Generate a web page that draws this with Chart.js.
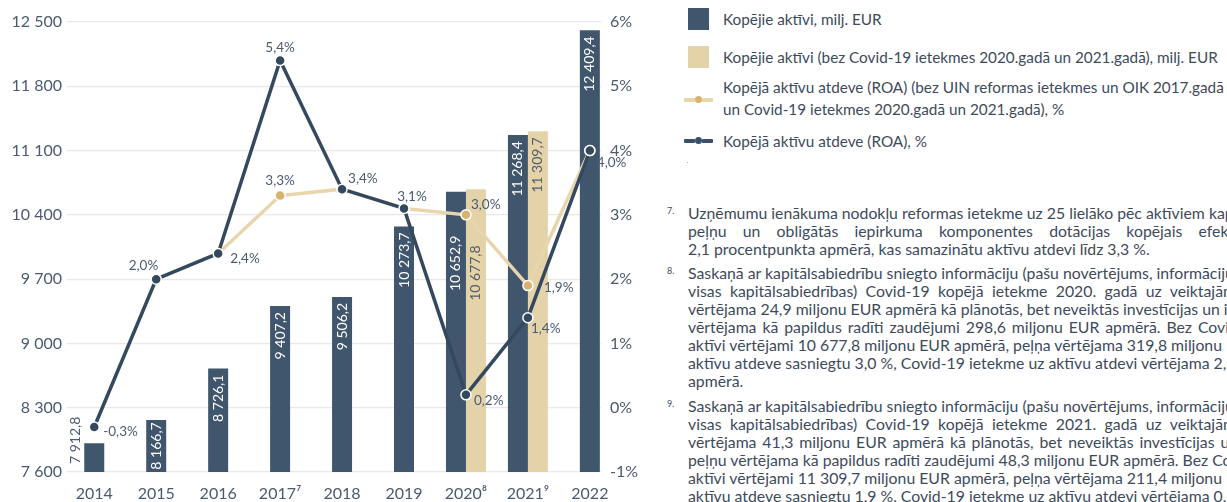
<!DOCTYPE html>
<html><head><meta charset="utf-8">
<script src="https://cdn.jsdelivr.net/npm/chart.js@4"></script>
<style>
body{margin:0;width:1227px;height:502px;overflow:hidden;background:#fff;position:relative;font-family:Lato,"Open Sans",sans-serif;color:#3d4a5c}
#cw{position:absolute;left:0;top:0;width:660px;height:502px}
.lg{position:absolute;left:723px;white-space:nowrap;font-size:15.3px;line-height:22px}
.sq{position:absolute;width:21px;height:22px}
.li{position:absolute;left:684px;width:29px;height:4px}
.li .a,.li .b{position:absolute;top:0;height:4px;width:11px;border-radius:1px}
.li .a{left:0}.li .b{right:0}
.li .d{position:absolute;left:11px;top:-2.5px;width:7px;height:7px;border-radius:50%}
.fn{position:absolute;left:688px;white-space:nowrap;font-size:15.8px;line-height:18px}
.num{position:absolute;left:667px;font-size:9px;white-space:nowrap}
</style></head><body>
<div id="cw"><canvas id="c" width="660" height="502"></canvas></div>

<div class="sq" style="left:688px;top:8px;background:#40566c"></div>
<div class="lg" style="top:8px">Kopējie aktīvi, milj. EUR</div>
<div class="sq" style="left:688px;top:46px;background:#e4d2a9"></div>
<div class="lg" style="top:46px">Kopējie aktīvi (bez Covid-19 ietekmes 2020.gadā un 2021.gadā), milj. EUR</div>
<div class="li" style="top:98px"><div class="a" style="background:#e8d5ad"></div><div class="d" style="background:#d6b470"></div><div class="b" style="background:#e8d5ad"></div></div>
<div class="lg" style="top:76px">Kopējā aktīvu atdeve (ROA) (bez UIN reformas ietekmes un OIK 2017.gadā</div>
<div class="lg" style="top:98px">un Covid-19 ietekmes 2020.gadā un 2021.gadā), %</div>
<div class="li" style="top:139px"><div class="a" style="background:#3a5068"></div><div class="d" style="background:#3a5068"></div><div class="b" style="background:#3a5068"></div></div>
<div class="lg" style="top:130px">Kopējā aktīvu atdeve (ROA), %</div>
<div style="position:absolute;left:687px;top:162px;width:1px;height:1px;background:#c99"></div>

<div id="notes"></div>

<script>
// ---- data ----
const years = [2014, 2015, 2016, 2017, 2018, 2019, 2020, 2021, 2022];
const yearLabels = ['2014', '2015', '2016', '2017⁷', '2018', '2019', '2020⁸', '2021⁹', '2022'];
const totalAssets = [7912.8, 8166.7, 8726.1, 9407.2, 9506.2, 10273.7, 10652.9, 11268.4, 12409.4];
const assetsExCovid = [null, null, null, null, null, null, 10677.8, 11309.7, null];
const roa = [-0.3, 2.0, 2.4, 5.4, 3.4, 3.1, 0.2, 1.4, 4.0];
const roaAdjusted = [null, null, 2.4, 3.3, 3.4, 3.1, 3.0, 1.9, 4.0];
const leftTicks = [7600, 8300, 9000, 9700, 10400, 11100, 11800, 12500];
const rightTicks = [-1, 0, 1, 2, 3, 4, 5, 6];

// ---- label placement (style) ----
const roaLabelPlace = [[9,5,'left'],[2,-14,'right'],[12,5,'left'],[0,-13,'center'],[6,-11,'left'],[8,-12,'center'],[8,6,'left'],[3,11,'left'],[7,12,'left']];
const adjLabelPlace = [null,null,null,[0,-15,'center'],null,null,[5,-10,'left'],[16,2,'left'],null];
const barLabelDrop = [[0,0,0,0,0,0,38,0,0],[0,0,0,0,0,0,50,0,0]];

const DARK = '#40566c', TAN = '#e4d2a9', LINE = '#34485e', TANLINE = '#e8d5ad', GOLD = '#d6b470', TXT = '#4a5a70';
const FONT = 'Lato, "Open Sans", sans-serif';

function fmtNum(v, dec) {
  const s = v.toFixed(dec);
  const [i, d] = s.split('.');
  const neg = i.startsWith('-');
  const ip = (neg ? i.slice(1) : i).replace(/\B(?=(\d{3})+(?!\d))/g, ' ');
  return (neg ? '-' : '') + ip + (d ? ',' + d : '');
}
const pts = arr => years.map((x, i) => ({x, y: arr[i]}));

const labelPlugin = {
  id: 'labels',
  afterDatasetsDraw(chart) {
    const ctx = chart.ctx;
    const base = chart.scales.y.getPixelForValue(leftTicks[0]);
    ctx.save();
    // bar value labels
    [0, 1].forEach(di => {
      const meta = chart.getDatasetMeta(di);
      const src = di === 0 ? totalAssets : assetsExCovid;
      meta.data.forEach((bar, i) => {
        const v = src[i];
        if (v == null) return;
        const txt = fmtNum(v, 1);
        ctx.font = '14px ' + FONT;
        const w = ctx.measureText(txt).width;
        const h = base - bar.y;
        ctx.save();
        ctx.textBaseline = 'middle';
        if (w + 2 > h) {
          ctx.translate(bar.x - 19, base - 8);
          ctx.rotate(-Math.PI / 2);
          ctx.textAlign = 'left';
          ctx.fillStyle = TXT;
        } else {
          const pad = Math.min(6, (h - w) / 2);
          ctx.translate(bar.x, bar.y + pad + barLabelDrop[di][i]);
          ctx.rotate(-Math.PI / 2);
          ctx.textAlign = 'right';
          ctx.fillStyle = di === 0 ? '#ffffff' : '#4f5d6e';
        }
        ctx.fillText(txt, 0, 0);
        ctx.restore();
      });
    });
    // line labels
    ctx.font = '13.5px ' + FONT;
    ctx.fillStyle = TXT;
    ctx.textBaseline = 'middle';
    [[2, roa, roaLabelPlace], [3, roaAdjusted, adjLabelPlace]].forEach(([di, src, place]) => {
      const meta = chart.getDatasetMeta(di);
      meta.data.forEach((p, i) => {
        const pl = place[i];
        if (!pl || src[i] == null) return;
        ctx.textAlign = pl[2];
        ctx.fillText(fmtNum(src[i], 1) + '%', p.x + pl[0], p.y + pl[1]);
      });
    });
    ctx.restore();
  }
};

new Chart(document.getElementById('c'), {
  data: {
    datasets: [
      {type: 'bar', label: 'Kopējie aktīvi, milj. EUR', data: pts(totalAssets), backgroundColor: DARK, yAxisID: 'y', order: 3,
        categoryPercentage: 0.645, barPercentage: 1, maxBarThickness: 20, skipNull: true},
      {type: 'bar', label: 'Kopējie aktīvi (bez Covid-19)', data: pts(assetsExCovid), backgroundColor: TAN, yAxisID: 'y', order: 4,
        categoryPercentage: 0.645, barPercentage: 1, maxBarThickness: 20, skipNull: true},
      {type: 'line', label: 'ROA', data: pts(roa), yAxisID: 'y1', order: 0, borderColor: LINE, borderWidth: 3.5,
        pointRadius: 5, pointBackgroundColor: LINE, pointBorderColor: '#ffffff', pointBorderWidth: 1.5, tension: 0},
      {type: 'line', label: 'ROA adj', data: pts(roaAdjusted), yAxisID: 'y1', order: 1, borderColor: TANLINE, borderWidth: 3.5,
        pointRadius: 5, pointBackgroundColor: GOLD, pointBorderColor: '#ffffff', pointBorderWidth: 1.5, tension: 0}
    ]
  },
  options: {
    responsive: false, animation: false,
    layout: {padding: {top: 22, left: 0, right: 0, bottom: 0}},
    plugins: {legend: {display: false}, tooltip: {enabled: false}},
    scales: {
      x: {type: 'linear', offset: false, min: years[0] - 0.44, max: years[years.length - 1] + 0.18,
        afterBuildTicks: s => { s.ticks = years.map(v => ({value: v})); },
        afterFit: s => { s.height = 30; },
        grid: {display: false}, border: {display: false},
        ticks: {autoSkip: false, maxRotation: 0, padding: 4, color: TXT, font: {family: FONT, size: 16},
          callback: v => yearLabels[years.indexOf(v)]}},
      y: {position: 'left', min: leftTicks[0], max: leftTicks[leftTicks.length - 1],
        afterBuildTicks: s => { s.ticks = leftTicks.map(v => ({value: v})); },
        afterFit: s => { s.width = 67; },
        grid: {color: '#e8e8e8', lineWidth: 1.2, drawTicks: false}, border: {display: false},
        ticks: {padding: 5, color: TXT, font: {family: FONT, size: 16}, callback: v => fmtNum(v, 0)}},
      y1: {position: 'right', min: rightTicks[0], max: rightTicks[rightTicks.length - 1],
        afterBuildTicks: s => { s.ticks = rightTicks.map(v => ({value: v})); },
        afterFit: s => { s.width = 59; },
        grid: {display: false, drawTicks: false}, border: {display: false},
        ticks: {padding: 9, color: TXT, font: {family: FONT, size: 16}, callback: v => v + '%'}}
    }
  },
  plugins: [labelPlugin]
});

// ---- footnotes ----
const notes = [
  {n: '7.', top: 204, lines: [
    ['Uzņēmumu ienākuma nodokļu reformas ietekme uz 25 lielāko pēc aktīviem kapitālsabiedrību', 0],
    ['peļņu un obligātās iepirkuma komponentes dotācijas kopējais efekts', 1241],
    ['2,1 procentpunkta apmērā, kas samazinātu aktīvu atdevi līdz 3,3 %.', 0]]},
  {n: '8.', top: 264, lines: [
    ['Saskaņā ar kapitālsabiedrību sniegto informāciju (pašu novērtējums, informāciju sniedza', 0],
    ['visas kapitālsabiedrības) Covid-19 kopējā ietekme 2020. gadā uz veiktajām', 1236],
    ['vērtējama 24,9 miljonu EUR apmērā kā plānotās, bet neveiktās investīcijas un ietekme uz peļņu', 0],
    ['vērtējama kā papildus radīti zaudējumi 298,6 miljonu EUR apmērā. Bez Covid-19', 1262],
    ['aktīvi vērtējami 10 677,8 miljonu EUR apmērā, peļņa vērtējama 319,8 miljonu EUR apmērā un', 0],
    ['aktīvu atdeve sasniegtu 3,0 %, Covid-19 ietekme uz aktīvu atdevi vērtējama 2,8 procentpunktu', 0],
    ['apmērā.', 0]]},
  {n: '9.', top: 397, lines: [
    ['Saskaņā ar kapitālsabiedrību sniegto informāciju (pašu novērtējums, informāciju sniedza', 0],
    ['visas kapitālsabiedrības) Covid-19 kopējā ietekme 2021. gadā uz veiktajām', 1236],
    ['vērtējama 41,3 miljonu EUR apmērā kā plānotās, bet neveiktās investīcijas un', 1238],
    ['peļņu vērtējama kā papildus radīti zaudējumi 48,3 miljonu EUR apmērā. Bez Covid-19 ietekmes', 0],
    ['aktīvi vērtējami 11 309,7 miljonu EUR apmērā, peļņa vērtējama 211,4 miljonu EUR apmērā un', 0],
    ['aktīvu atdeve sasniegtu 1,9 %, Covid-19 ietekme uz aktīvu atdevi vērtējama 0,5 procentpunkta', 0],
    ['apmērā.', 0]]}
];
const host = document.getElementById('notes');
notes.forEach(nt => {
  const num = document.createElement('div');
  num.className = 'num'; num.textContent = nt.n; num.style.top = (nt.top + 1) + 'px';
  host.appendChild(num);
  nt.lines.forEach((ln, k) => {
    const d = document.createElement('div');
    d.className = 'fn'; d.textContent = ln[0]; d.style.top = (nt.top + k * 18) + 'px';
    host.appendChild(d);
    if (ln[1]) {
      const spaces = (ln[0].match(/ /g) || []).length;
      const w = d.getBoundingClientRect().width;
      const extra = (ln[1] - 688 - w) / spaces;
      if (extra > 0) d.style.wordSpacing = extra + 'px';
    }
  });
});
</script>
</body></html>
